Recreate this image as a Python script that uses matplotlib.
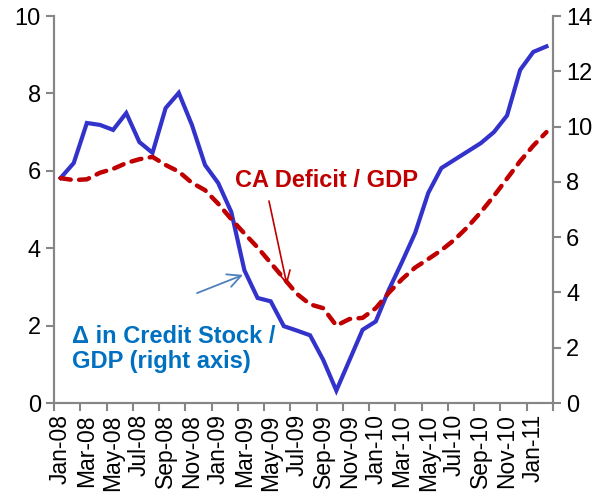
import numpy as np
import matplotlib
matplotlib.use('Agg')
import matplotlib.pyplot as plt

plt.rcParams['font.family'] = ['Liberation Sans', 'DejaVu Sans']

# monthly, Jan-08 .. Feb-11
tick_labels = ["Jan-08", "Mar-08", "May-08", "Jul-08", "Sep-08", "Nov-08",
               "Jan-09", "Mar-09", "May-09", "Jul-09", "Sep-09", "Nov-09",
               "Jan-10", "Mar-10", "May-10", "Jul-10", "Sep-10", "Nov-10",
               "Jan-11"]

# CA deficit / GDP (left axis)
ca_deficit = [5.81, 5.76, 5.78, 5.95, 6.05, 6.20, 6.30, 6.36, 6.15, 5.98,
              5.69, 5.50, 5.15, 4.75, 4.38, 4.02, 3.62, 3.22, 2.82, 2.55,
              2.45, 2.00, 2.17, 2.20, 2.45, 2.85, 3.20, 3.50, 3.72, 3.95,
              4.22, 4.55, 4.93, 5.35, 5.80, 6.25, 6.65, 7.00]

# change in credit stock / GDP (right axis)
credit = [8.14, 8.68, 10.13, 10.06, 9.88, 10.49, 9.44, 9.05, 10.67, 11.22,
          10.06, 8.61, 7.96, 6.91, 4.80, 3.80, 3.68, 2.78, 2.62, 2.45,
          1.56, 0.45, 1.55, 2.65, 2.95, 4.10, 5.10, 6.15, 7.60, 8.50,
          8.80, 9.10, 9.40, 9.80, 10.40, 12.05, 12.70, 12.90]

x = np.arange(len(credit))
grey = '#868686'

fig = plt.figure(figsize=(5.97, 4.97), dpi=100)
ax = fig.add_axes([0.0905, 0.1891, 0.8358, 0.7787])
ax2 = ax.twinx()

ax2.plot(x, credit, color='#3333CC', lw=3, solid_joinstyle='miter', zorder=3)
ax.plot(x, ca_deficit, color='#C00000', lw=3.2, dashes=(2.3, 1.9),
        dash_capstyle='round', zorder=2)
ax.set_zorder(ax2.get_zorder() + 1)
ax.patch.set_visible(False)

ax.set_xlim(-0.5, len(x) - 0.5)
ax.set_ylim(0, 10)
ax2.set_ylim(0, 14)
ax.set_yticks(np.arange(0, 11, 2))
ax2.set_yticks(np.arange(0, 15, 2))

# tick marks on category boundaries, labels at category centres
ax.set_xticks(np.arange(-0.5, len(x), 2))
ax.set_xticklabels([])
ax.set_xticks(np.arange(0, len(x), 2), minor=True)
ax.set_xticklabels(tick_labels, minor=True, rotation=90, fontsize=16.5)
ax.tick_params(axis='x', which='minor', length=0, pad=8)

for a in (ax, ax2):
    a.spines['top'].set_visible(False)
    for s in ('left', 'right', 'bottom'):
        a.spines[s].set_color(grey)
        a.spines[s].set_linewidth(1.5)
    a.tick_params(which='major', color=grey, width=1.5, length=6,
                  labelsize=17, direction='out')

ax.text(13.28, 5.74, "CA Deficit / GDP", color='#C00000', fontsize=17,
        fontweight='bold', ha='left', va='center')
ax.annotate("", xy=(17.24, 3.05), xytext=(15.87, 5.22),
            arrowprops=dict(arrowstyle='->', color='#C00000', lw=1.2,
                            mutation_scale=22, shrinkA=0, shrinkB=0))

ax.text(0.87, 1.40, "Δ in Credit Stock /\nGDP (right axis)", color='#0070C0',
        fontsize=17, fontweight='bold', ha='left', va='center',
        linespacing=1.12)
ax.annotate("", xy=(13.89, 3.31), xytext=(10.39, 2.84),
            arrowprops=dict(arrowstyle='->', color='#4F81BD', lw=1.3,
                            mutation_scale=24, shrinkA=0, shrinkB=0))

fig.savefig("out.png", dpi=100, facecolor='white')
